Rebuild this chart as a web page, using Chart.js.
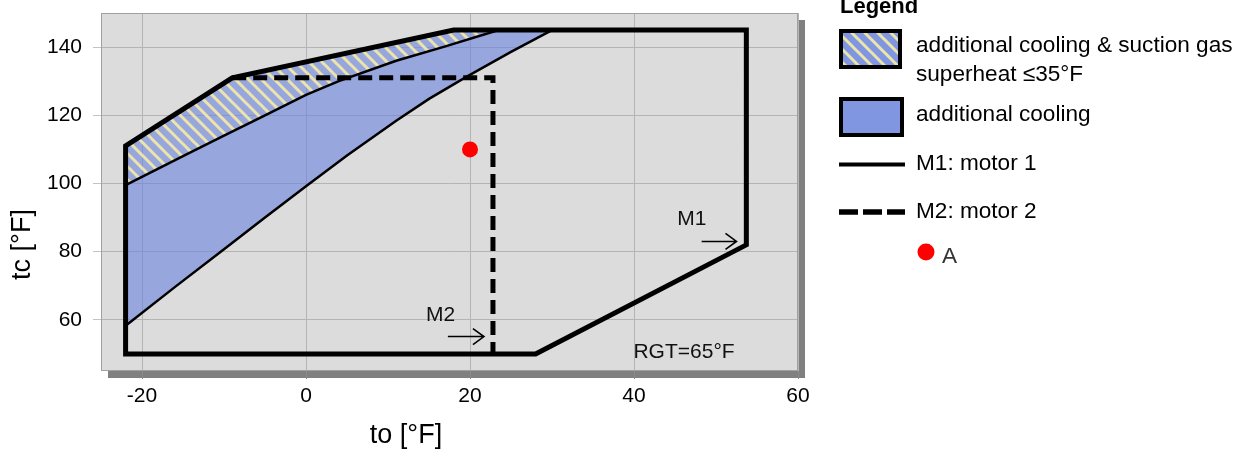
<!DOCTYPE html>
<html>
<head>
<meta charset="utf-8">
<script src="https://cdn.jsdelivr.net/npm/chart.js@4.4.1/dist/chart.umd.min.js"></script>
<style>
  html, body { margin: 0; padding: 0; background: #fff; }
  #wrap { position: relative; width: 1246px; height: 450px; }
</style>
</head>
<body>
<div id="wrap"><canvas id="envelope" width="1246" height="450"></canvas></div>
<script>
// axis ticks
const xTicks = [-20, 0, 20, 40, 60];
const yTicks = [60, 80, 100, 120, 140];

// M1: motor 1 limit (closed outline)
const motor1X = [-22, -22, -9, 18, 53.7, 53.7, 28, -22];
const motor1Y = [50, 111, 131, 145, 145, 82, 50, 50];

// M2: motor 2 limit
const motor2X = [-9, 22.8, 22.8];
const motor2Y = [131, 131, 50];

// upper edge of the areas (part of M1)
const topEdgeX = [-22, -9, 18];
const topEdgeY = [111, 131, 145];

// border between "additional cooling" and the superheat band
const superheatX = [-22, -15, -10, -5, 0, 4, 11, 17, 23.5];
const superheatY = [99.5, 108, 114, 120, 126, 130, 136, 140.2, 145];

// lower border of "additional cooling"
const coolingX = [-22, -16, -10, -5, 0, 5, 11, 15, 19.5, 25, 30];
const coolingY = [58.3, 69.6, 80.7, 90, 99.2, 108.2, 118.4, 124.8, 131.2, 138.6, 145];

// operating point A
const pointAX = [20];
const pointAY = [110];

// text in the plot
const notes = [
  { text: 'M1', x: 47.05, y: 87.7 },
  { text: 'M2', x: 16.4, y: 59.6 },
  { text: 'RGT=65°F', x: 46.1, y: 48.7 }
];
const arrows = [
  { x0: 48.25, x1: 52.5, y: 83.0 },
  { x0: 17.3, x1: 21.7, y: 55.1 }
];

const FONT = '"Liberation Sans", Arial, sans-serif';

function zip(xs, ys) {
  return xs.map((x, i) => ({ x: x, y: ys[i] }));
}

// yellow stripes for the superheat band
function makeStripes() {
  const n = 13;
  const c = document.createElement('canvas');
  c.width = n; c.height = n;
  const g = c.getContext('2d');
  g.strokeStyle = '#ebe4ab';
  g.lineWidth = 3;
  g.beginPath();
  g.moveTo(-3, -3); g.lineTo(n + 3, n + 3);
  g.moveTo(-3, n - 3); g.lineTo(3, n + 3);
  g.moveTo(n - 3, -3); g.lineTo(n + 3, 3);
  g.stroke();
  return g.createPattern(c, 'repeat');
}
const stripes = makeStripes();

const coolingArea = [...zip(topEdgeX, topEdgeY), ...zip(coolingX, coolingY).reverse()];
const superheatArea = [...zip(topEdgeX, topEdgeY), ...zip(superheatX, superheatY).reverse()];

function drawArrow(ctx, x0, x1, y) {
  ctx.beginPath();
  ctx.moveTo(x0, y); ctx.lineTo(x1, y);
  ctx.moveTo(x1 - 11, y - 8); ctx.lineTo(x1, y); ctx.lineTo(x1 - 11, y + 8);
  ctx.stroke();
}

const frame = {
  id: 'frame',
  beforeDraw(chart) {
    const { ctx, chartArea: a } = chart;
    ctx.save();
    ctx.fillStyle = '#808080';
    ctx.fillRect(a.left + 7, a.top + 7, a.right - a.left, a.bottom - a.top);
    ctx.fillStyle = '#dcdcdc';
    ctx.fillRect(a.left, a.top, a.right - a.left, a.bottom - a.top);
    ctx.restore();
  },
  afterDraw(chart) {
    const { ctx, chartArea: a } = chart;
    const sx = chart.scales.x, sy = chart.scales.y;
    ctx.save();
    ctx.strokeStyle = '#a0a0a0';
    ctx.lineWidth = 1;
    ctx.strokeRect(a.left + 0.5, a.top + 0.5, a.right - a.left - 1, a.bottom - a.top - 1);

    // notes and arrows
    ctx.fillStyle = '#111';
    ctx.font = '21px ' + FONT;
    ctx.textAlign = 'center';
    ctx.textBaseline = 'alphabetic';
    notes.forEach(n => ctx.fillText(n.text, sx.getPixelForValue(n.x), sy.getPixelForValue(n.y)));
    ctx.strokeStyle = '#000';
    ctx.lineWidth = 1.6;
    arrows.forEach(r => drawArrow(ctx, sx.getPixelForValue(r.x0), sx.getPixelForValue(r.x1), sy.getPixelForValue(r.y)));

    // axis titles
    ctx.fillStyle = '#000';
    ctx.font = '27px ' + FONT;
    ctx.fillText('to [°F]', 406, 443);
    ctx.save();
    ctx.translate(30, 244.5);
    ctx.rotate(-Math.PI / 2);
    ctx.fillText('tc [°F]', 0, 0);
    ctx.restore();

    // legend
    ctx.textAlign = 'left';
    ctx.font = 'bold 22px ' + FONT;
    ctx.fillText('Legend', 840, 13);

    ctx.fillStyle = '#8096e0';
    ctx.fillRect(839, 29, 63, 40);
    ctx.fillStyle = stripes;
    ctx.fillRect(839, 29, 63, 40);
    ctx.strokeStyle = '#000';
    ctx.lineWidth = 4;
    ctx.strokeRect(841, 31, 59, 36);

    ctx.fillStyle = '#8096e0';
    ctx.fillRect(839, 97, 65, 40);
    ctx.strokeRect(841, 99, 61, 36);

    ctx.lineWidth = 4;
    ctx.beginPath(); ctx.moveTo(839, 164.5); ctx.lineTo(905, 164.5); ctx.stroke();
    ctx.lineWidth = 5.5;
    ctx.setLineDash([19, 5]);
    ctx.beginPath(); ctx.moveTo(839, 212); ctx.lineTo(905, 212); ctx.stroke();
    ctx.setLineDash([]);

    ctx.fillStyle = '#ff0000';
    ctx.beginPath(); ctx.arc(926, 252, 8.5, 0, Math.PI * 2); ctx.fill();

    ctx.fillStyle = '#000';
    ctx.font = '22.6px ' + FONT;
    ctx.fillText('additional cooling & suction gas', 916, 52);
    ctx.fillText('superheat \u226435°F', 916, 81);
    ctx.fillText('additional cooling', 916, 121);
    ctx.fillText('M1: motor 1', 916, 170);
    ctx.fillText('M2: motor 2', 916, 218);
    ctx.fillStyle = '#333';
    ctx.fillText('A', 942, 263);
    ctx.restore();
  }
};

new Chart(document.getElementById('envelope'), {
  type: 'line',
  data: {
    datasets: [
      {
        label: 'A',
        data: zip(pointAX, pointAY),
        showLine: false,
        pointRadius: 8,
        pointBorderWidth: 0,
        pointBackgroundColor: '#ff0000',
        order: 0
      },
      {
        label: 'M2: motor 2',
        data: zip(motor2X, motor2Y),
        borderColor: '#000',
        borderWidth: 5,
        borderDash: [14, 7],
        borderJoinStyle: 'miter',
        pointRadius: 0,
        fill: false,
        order: 1
      },
      {
        label: 'M1: motor 1',
        data: zip(motor1X, motor1Y),
        borderColor: '#000',
        borderWidth: 5,
        borderJoinStyle: 'miter',
        borderCapStyle: 'square',
        pointRadius: 0,
        fill: false,
        order: 2
      },
      {
        label: 'cooling limit',
        data: zip(coolingX, coolingY),
        borderColor: '#000',
        borderWidth: 2.5,
        pointRadius: 0,
        fill: false,
        order: 3
      },
      {
        label: 'superheat limit',
        data: zip(superheatX, superheatY),
        borderColor: '#000',
        borderWidth: 2.5,
        pointRadius: 0,
        fill: false,
        order: 4
      },
      {
        label: 'additional cooling & suction gas superheat ≤35°F',
        data: superheatArea,
        borderWidth: 0,
        borderColor: 'rgba(0,0,0,0)',
        backgroundColor: stripes,
        pointRadius: 0,
        fill: 'shape',
        order: 5
      },
      {
        label: 'additional cooling',
        data: coolingArea,
        borderWidth: 0,
        borderColor: 'rgba(0,0,0,0)',
        backgroundColor: 'rgba(107,130,223,0.6)',
        pointRadius: 0,
        fill: 'shape',
        order: 6
      }
    ]
  },
  options: {
    responsive: false,
    animation: false,
    events: [],
    layout: { padding: { top: 13, right: 448, left: 0, bottom: 0 } },
    plugins: { legend: { display: false }, tooltip: { enabled: false } },
    scales: {
      x: {
        type: 'linear',
        min: -25,
        max: 60,
        afterBuildTicks: s => { s.ticks = xTicks.map(v => ({ value: v })); },
        afterFit: s => { s.height = 79; s.paddingLeft = 0; s.paddingRight = 0; },
        grid: { color: '#b4b4b4', tickColor: '#8a8a8a', tickLength: 8 },
        border: { display: false },
        ticks: { color: '#000', font: { family: FONT, size: 21 }, padding: 5, maxRotation: 0 }
      },
      y: {
        type: 'linear',
        min: 45,
        max: 150,
        afterBuildTicks: s => { s.ticks = yTicks.map(v => ({ value: v })); },
        afterFit: s => { s.width = 101; s.paddingTop = 0; s.paddingBottom = 0; },
        grid: { color: '#b4b4b4', tickColor: '#c4c4c4', tickLength: 8 },
        border: { display: false },
        ticks: { color: '#000', font: { family: FONT, size: 21 }, padding: 11 }
      }
    }
  },
  plugins: [frame]
});
</script>
</body>
</html>
